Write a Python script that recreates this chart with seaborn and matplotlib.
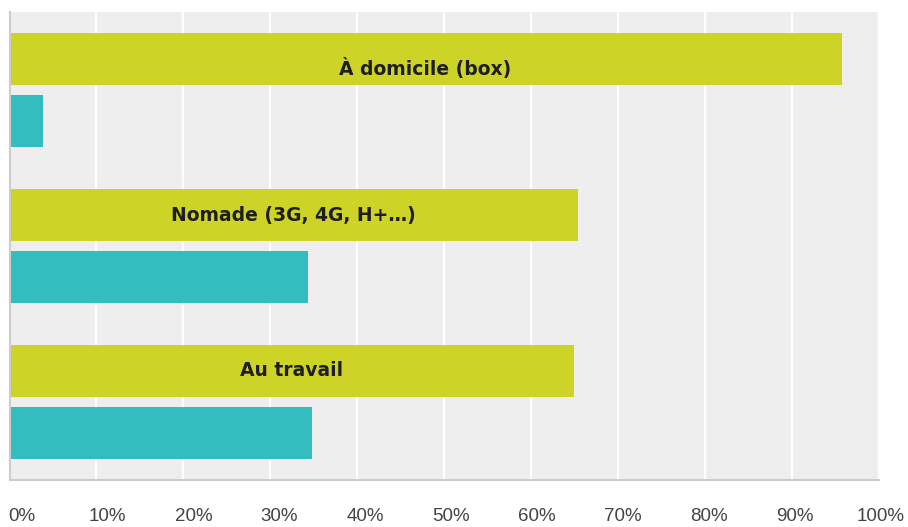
import matplotlib
matplotlib.use("Agg")
import matplotlib.pyplot as plt
import matplotlib.transforms as mtransforms
import seaborn as sns
import pandas as pd

categories = ["À domicile (box)", "Nomade (3G, 4G, H+…)", "Au travail"]
series_names = ["Oui", "Non"]
values_oui = [95.7, 65.4, 64.9]
values_non = [3.85, 34.3, 34.8]
tick_values = [0, 10, 20, 30, 40, 50, 60, 70, 80, 90, 100]
tick_labels = ["0%", "10%", "20%", "30%", "40%", "50%", "60%", "70%", "80%", "90%", "100%"]

rows = []
for c, a, b in zip(categories, values_oui, values_non):
    rows.append({"cat": c, "serie": series_names[0], "val": a})
    rows.append({"cat": c, "serie": series_names[1], "val": b})
df = pd.DataFrame(rows)

sns.set_style("white")
W, H = 908, 527
fig = plt.figure(figsize=(W / 100, H / 100), dpi=100)
ax = fig.add_axes([9.5 / W, 1 - 480 / H, (879 - 9.5) / W, (480 - 12) / H])
ax.set_facecolor("#eeeeee")

palette = {"Oui": "#ced427", "Non": "#33bdbf"}
sns.barplot(data=df, y="cat", x="val", hue="serie", order=categories,
            hue_order=series_names, palette=palette, orient="h",
            width=0.8, gap=0.1667, saturation=1, legend=False, ax=ax,
            edgecolor="none", linewidth=0)

ax.set_xlim(0, 100)
ax.set_ylim(2.5, -0.5)
ax.set_xlabel("")
ax.set_ylabel("")
ax.set_yticks([])
ax.set_xticks(tick_values)
ax.set_xticklabels(tick_labels)
ax.tick_params(axis="x", length=0, pad=20, labelsize=13.5, labelcolor="#444444")
for lab in ax.get_xticklabels():
    lab.set_fontfamily("Liberation Sans")

ax.set_axisbelow(True)
ax.grid(axis="x", color="white", linewidth=1.6)
ax.grid(axis="y", visible=False)

for s in ["top", "right"]:
    ax.spines[s].set_visible(False)
for s in ["left", "bottom"]:
    ax.spines[s].set_color("#cccccc")
    ax.spines[s].set_linewidth(1.5)

# category labels inside the first-series bars (baseline shift in pixels)
baseline_px = [16, 6, 5]
for i, (c, v) in enumerate(zip(categories, values_oui)):
    t = ax.text(v / 2, i - 0.2, c, ha="center", va="baseline", fontsize=13.5,
                fontweight="bold", color="#1e1e1e", family=["DejaVu Sans"])
    t.set_transform(ax.transData + mtransforms.ScaledTranslation(0, -baseline_px[i] / 100.0, fig.dpi_scale_trans))

# slight horizontal shift of tick labels
for v, lab in zip(tick_values, ax.get_xticklabels()):
    dx = (12 - 0.1 * v) / 100.0
    lab.set_transform(lab.get_transform() + mtransforms.ScaledTranslation(dx, 0, fig.dpi_scale_trans))

fig.savefig("out.png", dpi=100)
